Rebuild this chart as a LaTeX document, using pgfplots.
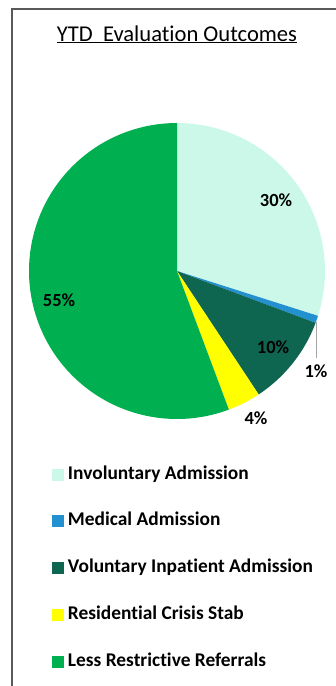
\documentclass[border=0pt]{standalone}
\usepackage{pgfplots}
\pgfplotsset{compat=1.18}
\usepackage{fontspec}
\setmainfont{Carlito}[Ligatures=NoCommon]
\definecolor{cInv}{HTML}{CCF8EA}
\definecolor{cMed}{HTML}{2391CF}
\definecolor{cVol}{HTML}{0E6651}
\definecolor{cRes}{HTML}{FFFF00}
\definecolor{cLess}{HTML}{00B050}
\definecolor{cBorder}{HTML}{595959}
% shares (percent), clockwise from 12 o'clock
\def\pInv{29.9}
\def\pMed{0.8}
\def\pVol{10.0}
\def\pRes{3.6}
\def\pLess{55.7}
\pgfmathsetmacro\aA{90}
\pgfmathsetmacro\aB{\aA-3.6*\pInv}
\pgfmathsetmacro\aC{\aB-3.6*\pMed}
\pgfmathsetmacro\aD{\aC-3.6*\pVol}
\pgfmathsetmacro\aE{\aD-3.6*\pRes}
\pgfmathsetmacro\aF{\aE-3.6*\pLess}
\def\cx{177}
\def\cy{271}
\def\r{148}
\begin{document}
\begin{tikzpicture}
\begin{axis}[
  width=336pt, height=686pt, scale only axis,
  xmin=0, xmax=336, ymin=0, ymax=686, y dir=reverse,
  hide axis, clip=false,
  legend image code/.code={\fill[#1] (0pt,-6pt) rectangle (12pt,6pt);},
  legend cell align=left,
  legend style={draw=none, fill=none, at={(axis cs:52,466)}, anchor=north west,
    inner sep=0pt, outer sep=0pt, row sep=29.8pt, column sep=4pt,
    font=\fontsize{19.4}{22}\selectfont\bfseries,
    nodes={inner sep=0pt, text height=13pt, text depth=4pt}},
]
\addplot[fill=cInv, draw=none, domain=\aB:\aA, samples=90, variable=\t]
  ({\cx+\r*cos(\t)},{\cy-\r*sin(\t)}) -- (axis cs:\cx,\cy) -- cycle;
\addlegendentry{Involuntary Admission}
\addplot[fill=cMed, draw=none, domain=\aC:\aB, samples=5, variable=\t]
  ({\cx+\r*cos(\t)},{\cy-\r*sin(\t)}) -- (axis cs:\cx,\cy) -- cycle;
\addlegendentry{Medical Admission}
\addplot[fill=cVol, draw=none, domain=\aD:\aC, samples=40, variable=\t]
  ({\cx+\r*cos(\t)},{\cy-\r*sin(\t)}) -- (axis cs:\cx,\cy) -- cycle;
\addlegendentry{Voluntary Inpatient Admission}
\addplot[fill=cRes, draw=none, domain=\aE:\aD, samples=10, variable=\t]
  ({\cx+\r*cos(\t)},{\cy-\r*sin(\t)}) -- (axis cs:\cx,\cy) -- cycle;
\addlegendentry{Residential Crisis Stab}
\addplot[fill=cLess, draw=none, domain=\aF:\aE, samples=150, variable=\t]
  ({\cx+\r*cos(\t)},{\cy-\r*sin(\t)}) -- (axis cs:\cx,\cy) -- cycle;
\addlegendentry{Less Restrictive Referrals}
% leader line for the 1% label
\addplot[draw={rgb,255:red,166;green,166;blue,166}, line width=1pt, forget plot] coordinates {(316,322) (316,358)};
% border
\addplot[draw=cBorder, line width=1.5pt, forget plot] coordinates {(12,686) (12,9) (336,9)};
% labels
\node[font=\fontsize{18.5}{20}\selectfont\bfseries] at (axis cs:276,200) {30\%};
\node[font=\fontsize{18.5}{20}\selectfont\bfseries] at (axis cs:273,347) {10\%};
\node[font=\fontsize{18.5}{20}\selectfont\bfseries] at (axis cs:316,371) {1\%};
\node[font=\fontsize{18.5}{20}\selectfont\bfseries] at (axis cs:256,418) {4\%};
\node[font=\fontsize{18.5}{20}\selectfont\bfseries] at (axis cs:59,300) {55\%};
\node[anchor=base, font=\fontsize{22.6}{25}\selectfont] at (axis cs:177,41) {\underline{YTD\ \ Evaluation Outcomes}};
\end{axis}
\pgfresetboundingbox
\useasboundingbox (current axis.south west) rectangle (current axis.north east);
\end{tikzpicture}
\end{document}
